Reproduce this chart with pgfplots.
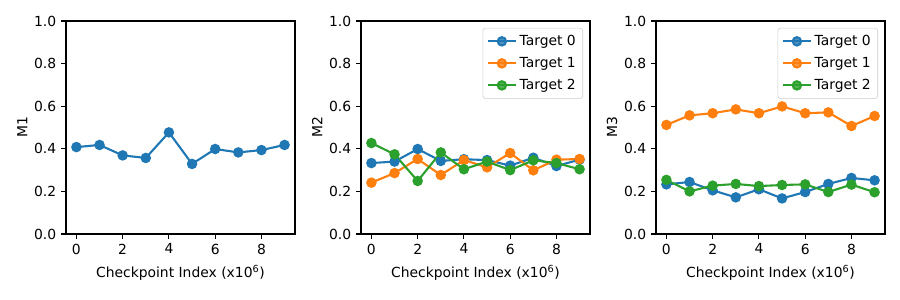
\documentclass[border=0pt]{standalone}
\usepackage{fontspec}
\setmainfont{DejaVu Sans}
\usepackage{pgfplots}
\pgfplotsset{compat=1.18}
\definecolor{tblue}{HTML}{1F77B4}
\definecolor{torange}{HTML}{FF7F0E}
\definecolor{tgreen}{HTML}{2CA02C}
\pgfplotsset{
  mpl/.style={
    scale only axis, width=164.88pt, height=153.36pt,
    xmin=-0.45, xmax=9.45, ymin=0, ymax=1,
    xtick={0,2,4,6,8}, ytick={0,0.2,0.4,0.6,0.8,1.0},
    yticklabel style={/pgf/number format/.cd, fixed, fixed zerofill, precision=1},
    /pgf/number format/assume math mode=true,
    tick align=outside, tick pos=left, major tick length=3.5pt,
    tick style={black, line width=0.8pt},
    axis line style={line width=0.8pt},
    ticklabel style={font=\fontsize{10}{12}\selectfont},
    label style={font=\fontsize{10}{12}\selectfont},
    xlabel={Checkpoint Index (x10\textsuperscript{6})},
    xlabel style={yshift=-1pt},
    ylabel style={yshift=-2pt},
    every axis plot/.append style={line width=1.5pt, mark=*, mark size=3pt},
    legend image code/.code={
      \draw[mark repeat=2, mark phase=2] plot coordinates {(0pt,0pt)(10pt,0pt)(20pt,0pt)};
    },
    legend style={at={(1,1)}, xshift=-5pt, yshift=-5pt, anchor=north east,
      draw=black!20, rounded corners=2pt, fill=white, fill opacity=0.8, text opacity=1,
      font=\fontsize{10}{12}\selectfont, row sep=3pt, inner xsep=3pt, inner ysep=3pt,
      /tikz/every odd column/.style={xshift=0pt}},
    legend cell align=left,
  },
}
\begin{document}
\begin{tikzpicture}
\begin{axis}[mpl, at={(0pt,0pt)}, anchor=south west, ylabel={M1}]
\addplot[color=tblue] coordinates {(0,0.408)(1,0.418)(2,0.369)(3,0.357)(4,0.477)(5,0.329)(6,0.399)(7,0.383)(8,0.394)(9,0.418)};
\end{axis}
\begin{axis}[mpl, at={(212.4pt,0pt)}, anchor=south west, ylabel={M2}]
\addplot[color=tblue] coordinates {(0,0.333)(1,0.340)(2,0.399)(3,0.343)(4,0.351)(5,0.347)(6,0.321)(7,0.358)(8,0.319)(9,0.349)};
\addlegendentry{Target 0}
\addplot[color=torange] coordinates {(0,0.241)(1,0.286)(2,0.352)(3,0.277)(4,0.347)(5,0.313)(6,0.380)(7,0.299)(8,0.349)(9,0.352)};
\addlegendentry{Target 1}
\addplot[color=tgreen] coordinates {(0,0.427)(1,0.374)(2,0.249)(3,0.383)(4,0.304)(5,0.340)(6,0.300)(7,0.346)(8,0.333)(9,0.304)};
\addlegendentry{Target 2}
\end{axis}
\begin{axis}[mpl, at={(424.8pt,0pt)}, anchor=south west, ylabel={M3}]
\addplot[color=tblue] coordinates {(0,0.233)(1,0.244)(2,0.205)(3,0.172)(4,0.210)(5,0.167)(6,0.197)(7,0.235)(8,0.263)(9,0.252)};
\addlegendentry{Target 0}
\addplot[color=torange] coordinates {(0,0.512)(1,0.557)(2,0.567)(3,0.585)(4,0.567)(5,0.599)(6,0.567)(7,0.571)(8,0.507)(9,0.554)};
\addlegendentry{Target 1}
\addplot[color=tgreen] coordinates {(0,0.254)(1,0.200)(2,0.227)(3,0.235)(4,0.225)(5,0.230)(6,0.233)(7,0.197)(8,0.232)(9,0.196)};
\addlegendentry{Target 2}
\end{axis}
\pgfresetboundingbox
\path[use as bounding box] (-47.52pt,-47.52pt) rectangle (600.48pt,168.48pt);
\end{tikzpicture}
\end{document}
